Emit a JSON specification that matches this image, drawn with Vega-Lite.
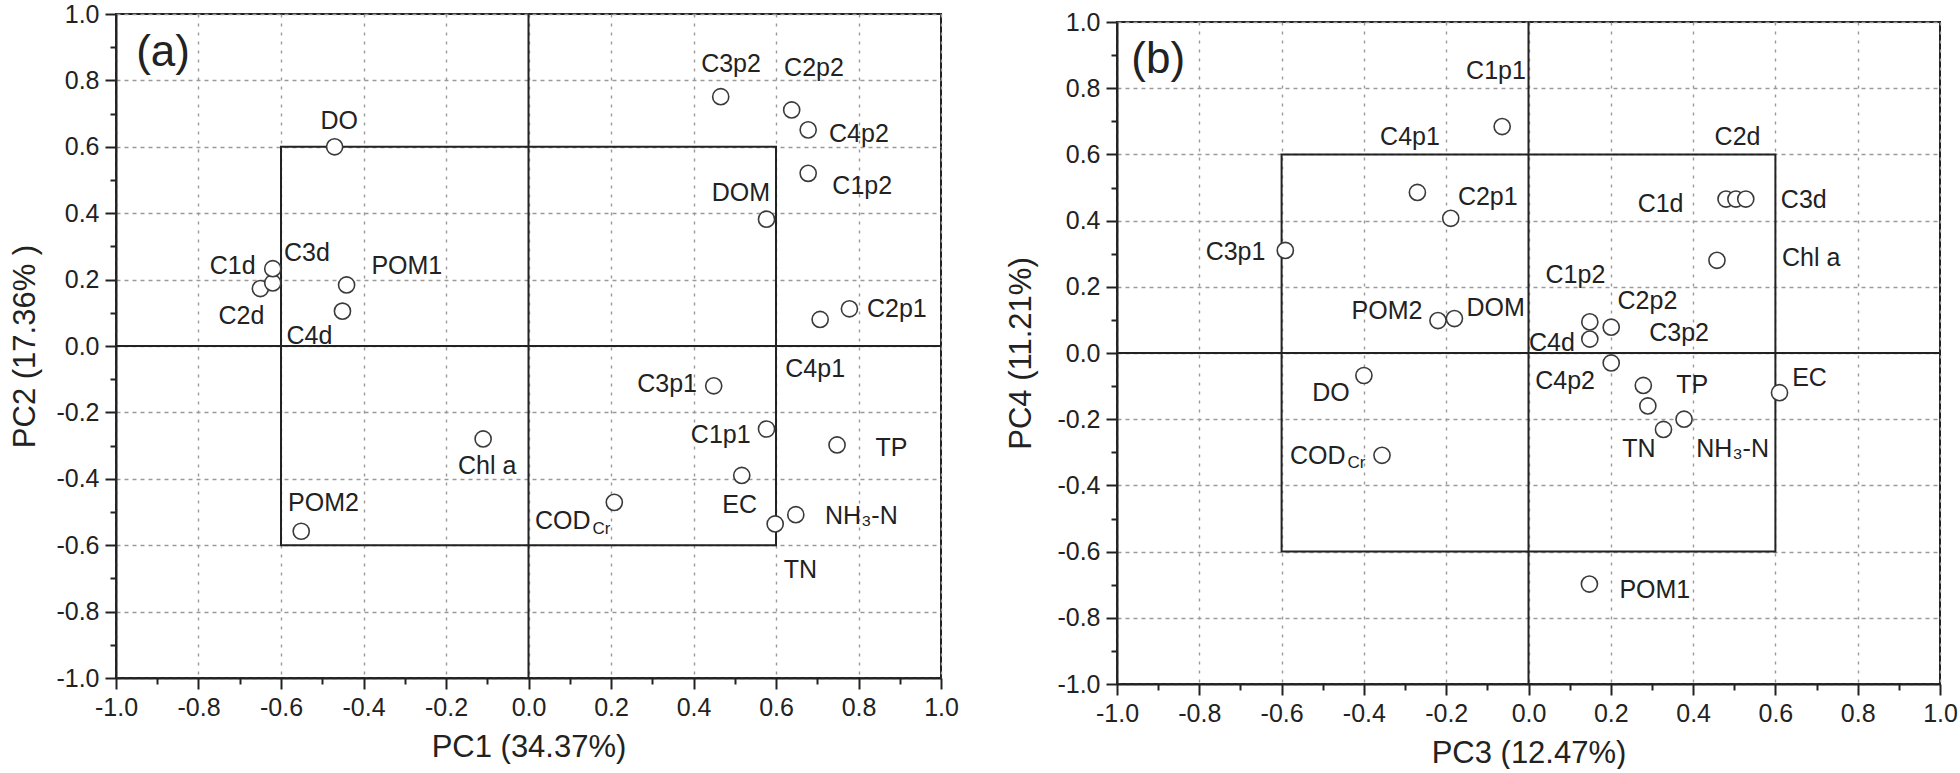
{
  "$schema": "https://vega.github.io/schema/vega-lite/v6.json",
  "background": "white",
  "padding": {"left": 8, "top": 1, "right": 0, "bottom": 0},
  "config": {
    "font": "Liberation Sans",
    "view": {"stroke": "#222", "strokeWidth": 2},
    "axis": {
      "domainColor": "#222", "domainWidth": 2,
      "tickColor": "#222", "tickWidth": 2,
      "labelFont": "Liberation Sans", "labelFontSize": 25, "labelColor": "#222",
      "labelFlush": false, "labelOverlap": false,
      "titleFont": "Liberation Sans", "titleFontSize": 31, "titleFontWeight": "normal", "titleColor": "#222",
      "grid": true, "gridColor": "#9a9a9a", "gridWidth": 1.4
    },
    "axisX": {"gridDash": [3, 6], "labelPadding": 6, "titlePadding": 12},
    "axisY": {"gridDash": [4, 4], "labelPadding": 6, "titlePadding": 14}
  },
  "datasets": {
    "A": [
      {"name": "DO", "x": -0.47, "y": 0.60, "lx": -0.459, "ly": 0.678},
      {"name": "C2d", "x": -0.65, "y": 0.173, "lx": -0.696, "ly": 0.090},
      {"name": "C3d", "x": -0.62, "y": 0.19, "lx": -0.537, "ly": 0.279},
      {"name": "C1d", "x": -0.62, "y": 0.233, "lx": -0.717, "ly": 0.241},
      {"name": "C4d", "x": -0.451, "y": 0.105, "lx": -0.531, "ly": 0.030},
      {"name": "POM1", "x": -0.441, "y": 0.184, "lx": -0.295, "ly": 0.241},
      {"name": "C3p2", "x": 0.466, "y": 0.751, "lx": 0.491, "ly": 0.848},
      {"name": "C2p2", "x": 0.638, "y": 0.711, "lx": 0.692, "ly": 0.838},
      {"name": "C4p2", "x": 0.678, "y": 0.651, "lx": 0.801, "ly": 0.638},
      {"name": "C1p2", "x": 0.678, "y": 0.520, "lx": 0.809, "ly": 0.482},
      {"name": "DOM", "x": 0.577, "y": 0.382, "lx": 0.515, "ly": 0.460},
      {"name": "C2p1", "x": 0.778, "y": 0.112, "lx": 0.893, "ly": 0.110},
      {"name": "C4p1", "x": 0.707, "y": 0.080, "lx": 0.695, "ly": -0.070},
      {"name": "C3p1", "x": 0.449, "y": -0.120, "lx": 0.336, "ly": -0.115},
      {"name": "C1p1", "x": 0.577, "y": -0.250, "lx": 0.466, "ly": -0.267},
      {"name": "TP", "x": 0.748, "y": -0.298, "lx": 0.880, "ly": -0.307},
      {"name": "EC", "x": 0.517, "y": -0.390, "lx": 0.512, "ly": -0.478},
      {"name": "COD", "sub": "Cr", "x": 0.208, "y": -0.471, "lx": 0.083, "ly": -0.528, "sx": 0.177, "sy": -0.551},
      {"name": "NH₃-N", "x": 0.648, "y": -0.508, "lx": 0.807, "ly": -0.513},
      {"name": "TN", "x": 0.598, "y": -0.536, "lx": 0.659, "ly": -0.674},
      {"name": "Chl a", "x": -0.110, "y": -0.280, "lx": -0.100, "ly": -0.361},
      {"name": "POM2", "x": -0.551, "y": -0.558, "lx": -0.497, "ly": -0.474}
    ],
    "B": [
      {"name": "C1p1", "x": -0.064, "y": 0.684, "lx": -0.079, "ly": 0.853},
      {"name": "C4p1", "x": -0.270, "y": 0.485, "lx": -0.288, "ly": 0.654},
      {"name": "C2p1", "x": -0.189, "y": 0.407, "lx": -0.099, "ly": 0.472},
      {"name": "C3p1", "x": -0.591, "y": 0.310, "lx": -0.712, "ly": 0.306},
      {"name": "POM2", "x": -0.220, "y": 0.098, "lx": -0.344, "ly": 0.126},
      {"name": "DOM", "x": -0.180, "y": 0.104, "lx": -0.080, "ly": 0.135},
      {"name": "DO", "x": -0.400, "y": -0.068, "lx": -0.480, "ly": -0.122},
      {"name": "COD", "sub": "Cr", "x": -0.356, "y": -0.309, "lx": -0.512, "ly": -0.311, "sx": -0.418, "sy": -0.332},
      {"name": "C1d", "x": 0.480, "y": 0.465, "lx": 0.321, "ly": 0.450},
      {"name": "C2d", "x": 0.504, "y": 0.465, "lx": 0.508, "ly": 0.654},
      {"name": "C3d", "x": 0.528, "y": 0.465, "lx": 0.669, "ly": 0.463},
      {"name": "Chl a", "x": 0.458, "y": 0.280, "lx": 0.687, "ly": 0.286},
      {"name": "C1p2", "x": 0.149, "y": 0.094, "lx": 0.114, "ly": 0.236},
      {"name": "C4d", "x": 0.149, "y": 0.042, "lx": 0.057, "ly": 0.030},
      {"name": "C2p2", "x": 0.201, "y": 0.078, "lx": 0.289, "ly": 0.157},
      {"name": "C3p2", "x": 0.290, "y": -0.160, "lx": 0.366, "ly": 0.061},
      {"name": "C4p2", "x": 0.201, "y": -0.030, "lx": 0.089, "ly": -0.086},
      {"name": "TP", "x": 0.279, "y": -0.098, "lx": 0.398, "ly": -0.096},
      {"name": "TN", "x": 0.328, "y": -0.231, "lx": 0.268, "ly": -0.289},
      {"name": "NH₃-N", "x": 0.378, "y": -0.200, "lx": 0.496, "ly": -0.289},
      {"name": "EC", "x": 0.610, "y": -0.120, "lx": 0.683, "ly": -0.076},
      {"name": "POM1", "x": 0.148, "y": -0.698, "lx": 0.307, "ly": -0.717}
    ],
    "guides": [
      {"x": 0, "x2": 0, "y": -1, "y2": 1},
      {"x": -1, "x2": 1, "y": 0, "y2": 0}
    ],
    "box": [
      {"x": -0.6, "x2": 0.6, "y": -0.6, "y2": 0.6}
    ]
  },
  "hconcat": [
    {
      "width": 825, "height": 664,
      "resolve": {"axis": {"x": "independent", "y": "independent"}},
      "layer": [
        {
          "data": {"name": "guides"},
          "mark": {"type": "rule", "color": "#222", "strokeWidth": 2},
          "encoding": {
            "x": {"field": "x", "type": "quantitative", "scale": {"domain": [-1, 1], "nice": false, "zero": false},
              "title": "PC1 (34.37%)",
              "axis": {"orient": "bottom", "values": [-1, -0.8, -0.6, -0.4, -0.2, 0, 0.2, 0.4, 0.6, 0.8, 1], "tickSize": 11,
                "labelExpr": "(datum.value < -0.001 ? '-' : '') + format(abs(datum.value), '.1f')"}},
            "x2": {"field": "x2"},
            "y": {"field": "y", "type": "quantitative", "scale": {"domain": [-1, 1], "nice": false, "zero": false},
              "title": "PC2 (17.36% )",
              "axis": {"orient": "left", "values": [-1, -0.8, -0.6, -0.4, -0.2, 0, 0.2, 0.4, 0.6, 0.8, 1], "tickSize": 11,
                "labelExpr": "(datum.value < -0.001 ? '-' : '') + format(abs(datum.value), '.1f')"}},
            "y2": {"field": "y2"}
          }
        },
        {
          "data": {"name": "box"},
          "mark": {"type": "rect", "fill": "white", "fillOpacity": 0, "stroke": "#222", "strokeWidth": 2},
          "encoding": {
            "x": {"field": "x", "type": "quantitative",
              "axis": {"orient": "bottom", "values": [-0.9, -0.7, -0.5, -0.3, -0.1, 0.1, 0.3, 0.5, 0.7, 0.9], "tickSize": 6, "labels": false, "grid": false, "domain": false, "title": null}},
            "x2": {"field": "x2"},
            "y": {"field": "y", "type": "quantitative",
              "axis": {"orient": "left", "values": [-0.9, -0.7, -0.5, -0.3, -0.1, 0.1, 0.3, 0.5, 0.7, 0.9], "tickSize": 6, "labels": false, "grid": false, "domain": false, "title": null}},
            "y2": {"field": "y2"}
          }
        },
        {
          "data": {"name": "A"},
          "mark": {"type": "point", "shape": "circle", "filled": true, "fill": "white", "stroke": "#3a3a3a", "strokeWidth": 1.6, "size": 260, "opacity": 1},
          "encoding": {
            "x": {"field": "x", "type": "quantitative", "axis": null},
            "y": {"field": "y", "type": "quantitative", "axis": null}
          }
        },
        {
          "data": {"name": "A"},
          "mark": {"type": "text", "fontSize": 25, "color": "#222", "align": "center", "baseline": "middle"},
          "encoding": {
            "x": {"field": "lx", "type": "quantitative", "axis": null},
            "y": {"field": "ly", "type": "quantitative", "axis": null},
            "text": {"field": "name"}
          }
        },
        {
          "data": {"name": "A"},
          "transform": [{"filter": "datum.sub"}],
          "mark": {"type": "text", "fontSize": 17, "color": "#222", "align": "center", "baseline": "middle"},
          "encoding": {
            "x": {"field": "sx", "type": "quantitative", "axis": null},
            "y": {"field": "sy", "type": "quantitative", "axis": null},
            "text": {"field": "sub"}
          }
        },
        {
          "data": {"values": [{"t": "(a)", "x": -0.886, "y": 0.884}]},
          "mark": {"type": "text", "fontSize": 44, "color": "#222", "align": "center", "baseline": "middle"},
          "encoding": {
            "x": {"field": "x", "type": "quantitative", "axis": null},
            "y": {"field": "y", "type": "quantitative", "axis": null},
            "text": {"field": "t"}
          }
        }
      ]
    },
    {
      "bounds": "flush",
      "spacing": 0,
      "vconcat": [
        {
          "width": 823, "height": 8,
          "view": {"stroke": null},
          "data": {"values": []},
          "mark": "point",
          "encoding": {}
        },
        {
          "width": 823, "height": 662,
          "resolve": {"axis": {"x": "independent", "y": "independent"}},
          "layer": [
            {
              "data": {"name": "guides"},
              "mark": {"type": "rule", "color": "#222", "strokeWidth": 2},
              "encoding": {
                "x": {"field": "x", "type": "quantitative", "scale": {"domain": [-1, 1], "nice": false, "zero": false},
                  "title": "PC3 (12.47%)",
                  "axis": {"orient": "bottom", "values": [-1, -0.8, -0.6, -0.4, -0.2, 0, 0.2, 0.4, 0.6, 0.8, 1], "tickSize": 11,
                    "labelExpr": "(datum.value < -0.001 ? '-' : '') + format(abs(datum.value), '.1f')"}},
                "x2": {"field": "x2"},
                "y": {"field": "y", "type": "quantitative", "scale": {"domain": [-1, 1], "nice": false, "zero": false},
                  "title": "PC4 (11.21%)",
                  "axis": {"orient": "left", "values": [-1, -0.8, -0.6, -0.4, -0.2, 0, 0.2, 0.4, 0.6, 0.8, 1], "tickSize": 11, "titlePadding": 19,
                    "labelExpr": "(datum.value < -0.001 ? '-' : '') + format(abs(datum.value), '.1f')"}},
                "y2": {"field": "y2"}
              }
            },
            {
              "data": {"name": "box"},
              "mark": {"type": "rect", "fill": "white", "fillOpacity": 0, "stroke": "#222", "strokeWidth": 2},
              "encoding": {
                "x": {"field": "x", "type": "quantitative",
                  "axis": {"orient": "bottom", "values": [-0.9, -0.7, -0.5, -0.3, -0.1, 0.1, 0.3, 0.5, 0.7, 0.9], "tickSize": 6, "labels": false, "grid": false, "domain": false, "title": null}},
                "x2": {"field": "x2"},
                "y": {"field": "y", "type": "quantitative",
                  "axis": {"orient": "left", "values": [-0.9, -0.7, -0.5, -0.3, -0.1, 0.1, 0.3, 0.5, 0.7, 0.9], "tickSize": 6, "labels": false, "grid": false, "domain": false, "title": null}},
                "y2": {"field": "y2"}
              }
            },
            {
              "data": {"name": "B"},
              "mark": {"type": "point", "shape": "circle", "filled": true, "fill": "white", "stroke": "#3a3a3a", "strokeWidth": 1.6, "size": 260, "opacity": 1},
              "encoding": {
                "x": {"field": "x", "type": "quantitative", "axis": null},
                "y": {"field": "y", "type": "quantitative", "axis": null}
              }
            },
            {
              "data": {"name": "B"},
              "mark": {"type": "text", "fontSize": 25, "color": "#222", "align": "center", "baseline": "middle"},
              "encoding": {
                "x": {"field": "lx", "type": "quantitative", "axis": null},
                "y": {"field": "ly", "type": "quantitative", "axis": null},
                "text": {"field": "name"}
              }
            },
            {
              "data": {"name": "B"},
              "transform": [{"filter": "datum.sub"}],
              "mark": {"type": "text", "fontSize": 17, "color": "#222", "align": "center", "baseline": "middle"},
              "encoding": {
                "x": {"field": "sx", "type": "quantitative", "axis": null},
                "y": {"field": "sy", "type": "quantitative", "axis": null},
                "text": {"field": "sub"}
              }
            },
            {
              "data": {"values": [{"t": "(b)", "x": -0.900, "y": 0.885}]},
              "mark": {"type": "text", "fontSize": 44, "color": "#222", "align": "center", "baseline": "middle"},
              "encoding": {
                "x": {"field": "x", "type": "quantitative", "axis": null},
                "y": {"field": "y", "type": "quantitative", "axis": null},
                "text": {"field": "t"}
              }
            }
          ]
        }
      ]
    }
  ],
  "bounds": "flush",
  "spacing": 176
}
